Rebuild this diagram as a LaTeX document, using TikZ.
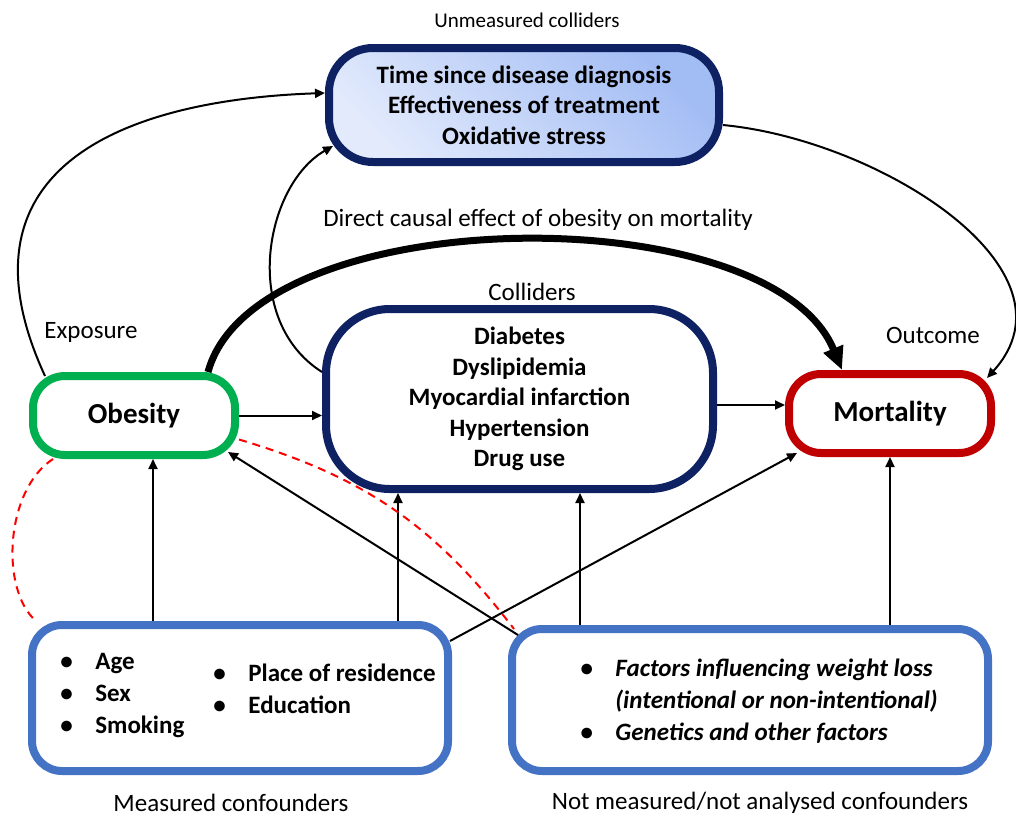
\documentclass[tikz,border=0pt]{standalone}
\usepackage{fontspec}
\setmainfont{Carlito}
\usetikzlibrary{arrows.meta}

\definecolor{navybox}{HTML}{0E2163}
\definecolor{greenbox}{HTML}{00B050}
\definecolor{redbox}{HTML}{C00000}
\definecolor{bluebox}{HTML}{4472C4}
\definecolor{shadelight}{HTML}{E2EAFC}
\definecolor{shadedark}{HTML}{A2BCF4}
\definecolor{dashred}{HTML}{FF0000}

\newcommand{\bitem}[1]{\makebox[17.5pt][l]{\textbullet}#1}

\begin{document}
\begin{tikzpicture}[x=0.5pt, y=0.5pt, font=\fontsize{12.5}{15.25}\selectfont,
    box/.style={draw, rounded corners=#1, fill=white, inner sep=0pt, line width=4pt, align=center, font=\fontsize{12.5}{15.25}\selectfont\bfseries},
    arr/.style={-{Triangle[length=5pt,width=4.5pt]}, line width=1pt},
    lbl/.style={inner sep=0pt},
    list/.style={inner sep=0pt, anchor=west, align=left, font=\fontsize{12.5}{16}\selectfont\bfseries},
    dashline/.style={dashred, line width=1pt, dash pattern=on 4pt off 3pt}]
                \useasboundingbox (0,0) rectangle (1016,-815);

                \node[box=22pt, draw=navybox, minimum width=195pt, minimum height=57pt, top color=shadedark, bottom color=shadelight, shading angle=-45] (top) at (524,-105) {Time since disease diagnosis\\Effectiveness of treatment\\Oxidative stress};
                \node[box=32pt, draw=navybox, minimum width=193.5pt, minimum height=90pt] (coll) at (519.5,-399) {Diabetes\\Dyslipidemia\\Myocardial infarction\\Hypertension\\Drug use};
                \node[box=16pt, draw=greenbox, minimum width=101pt, minimum height=39.5pt, font=\fontsize{14.5}{17}\selectfont\bfseries] (obes) at (134,-415.5) {Obesity};
                \node[box=16pt, draw=redbox, minimum width=101pt, minimum height=39.5pt, font=\fontsize{14.5}{17}\selectfont\bfseries] (mort) at (890,-413.5) {Mortality};
                \node[box=15pt, draw=bluebox, minimum width=208pt, minimum height=73pt] (meas) at (240,-698) {};
                \node[box=15pt, draw=bluebox, minimum width=238pt, minimum height=71pt] (nm) at (750,-700) {};

                \node[list] (meas1) at (60,-695) {\bitem{Age}\\\bitem{Sex}\\\bitem{Smoking}};
                \node[list] (meas2) at (213,-688.5) {\bitem{Place of residence}\\\bitem{Education}};
                \node[list, font=\fontsize{12.5}{16}\selectfont\bfseries\itshape] (nm1) at (580,-701.5) {\bitem{Factors influencing weight loss}\\\makebox[17.5pt]{}(intentional or non-intentional)\\\bitem{Genetics and other factors}};

                \node[lbl, font=\fontsize{10.5}{12}\selectfont] (unmeas) at (527,-20) {Unmeasured colliders};
                \node[lbl] (direct) at (538,-220) {Direct causal effect of obesity on mortality};
                \node[lbl] (colllab) at (532,-292) {Colliders};
                \node[lbl] (expo) at (91,-332) {Exposure};
                \node[lbl] (outc) at (933,-335) {Outcome};
                \node[lbl] (measlab) at (231,-803) {Measured confounders};
                \node[lbl] (nmlab) at (760,-803) {Not measured/not analysed confounders};

                \coordinate (m1) at ([xshift=-43.5pt]meas.north);
                \coordinate (m2) at ([xshift=79pt]meas.north);
                \coordinate (n1) at ([xshift=-85pt]nm.north);

                % causal paths
                \draw[arr] (obes.east) -- (obes.east -| coll.west);
                \draw[arr] ([yshift=-3pt]coll.east) -- ([yshift=-3pt]coll.east -| mort.west);
                \draw[line width=3.5pt, -{Triangle[length=11.5pt,width=10pt]}] ([xshift=37pt]obes.north) .. controls (255,-200) and (770,-195) .. ([xshift=-24pt]mort.north);
                \draw[arr] ([xshift=-44.5pt,yshift=-2pt]obes.north) .. controls (-50,-170) and (120,-100) .. ([yshift=6pt]top.west);
                \draw[arr] ([yshift=13.5pt]coll.west) .. controls (240,-320) and (265,-185) .. ([xshift=4pt,yshift=10pt]top.south west);
                \draw[arr] ([yshift=-10pt]top.east) .. controls (880,-140) and (1085,-270) .. ([xshift=-4pt,yshift=-4pt]mort.north east);

                % confounders
                \draw[arr] (m1) -- (m1 |- obes.south);
                \draw[arr] (m2) -- (m2 |- coll.south);
                \draw[arr] (n1) -- (n1 |- coll.south);
                \draw[arr] (nm.north -| mort.south) -- (mort.south);
                \draw[arr] ([xshift=-1pt,yshift=-10pt]meas.north east) -- ([xshift=6pt,yshift=2pt]mort.south west);
                \draw[arr] ([xshift=5pt,yshift=-5pt]nm.north west) -- ([xshift=-5.5pt,yshift=3.5pt]obes.south east);

                \draw[dashline] ([xshift=12pt]obes.south west) .. controls (5,-490) and (0,-590) .. ([xshift=4pt]meas.north west);
                \draw[dashline] ([yshift=-12pt]obes.east) to[bend left=18] ([xshift=3pt,yshift=-2pt]nm.north west);
            \end{tikzpicture}
\end{document}
